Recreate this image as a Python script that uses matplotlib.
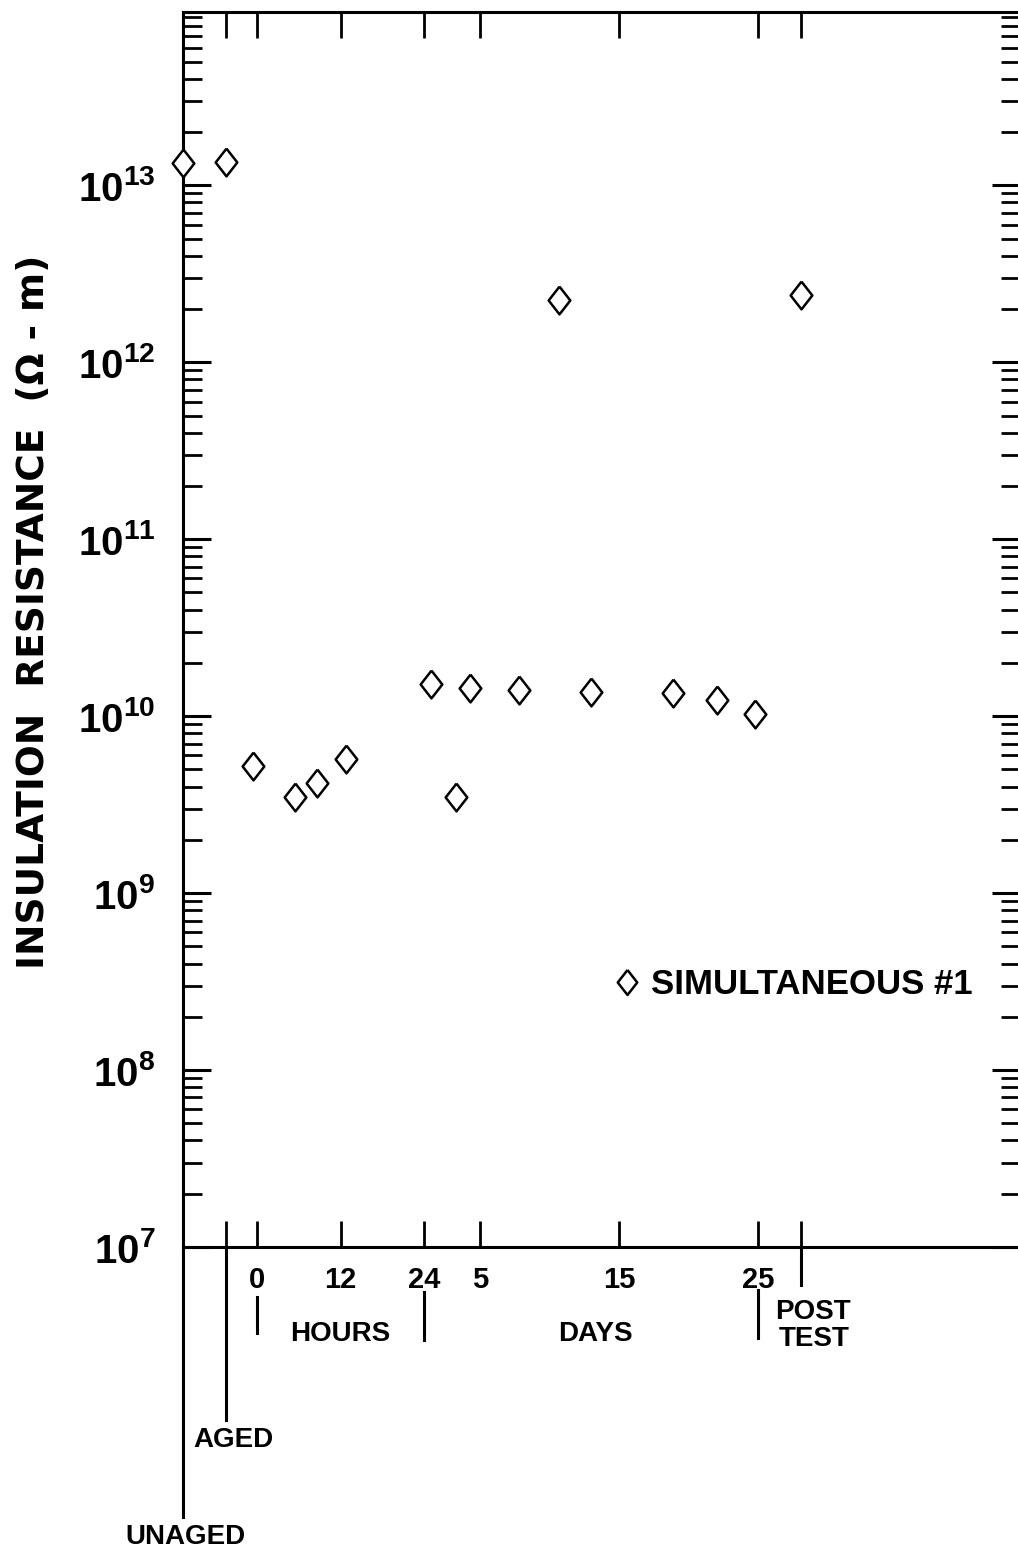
import numpy as np
import matplotlib
matplotlib.use("Agg")
import matplotlib.pyplot as plt
import matplotlib.ticker as ticker
import matplotlib.transforms as mtransforms

plt.rcParams['font.family'] = ['Liberation Sans', 'DejaVu Sans']
plt.rcParams['font.weight'] = 'bold'
plt.rcParams['mathtext.fontset'] = 'custom'
plt.rcParams['mathtext.rm'] = 'Liberation Sans:bold'
plt.rcParams['mathtext.bf'] = 'Liberation Sans:bold'

# --- data ---
# x positions in "hour units": hours 0..24 are 1:1, then each day = 2 units
STAGE_POS = {'UNAGED': -10.63, 'AGED': -4.45, 'POST': 78.2}

pre_stages = ['UNAGED', 'AGED']
pre_values = [1.33e13, 1.35e13]

hour_times = [-0.6, 5.5, 8.6, 12.8]
hour_values = [5.2e9, 3.5e9, 4.2e9, 5.7e9]

day_times = [1.5, 3.3, 4.3, 7.8, 10.7, 13.0, 18.9, 22.0, 24.8]
day_values = [1.52e10, 3.5e9, 1.44e10, 1.40e10, 2.24e12, 1.37e10, 1.35e10, 1.23e10, 1.03e10]

post_value = 2.39e12

hour_ticks = [0, 12, 24]
day_ticks = [5, 15, 25]


def day_pos(d):
    return 24 + (np.asarray(d, dtype=float) - 1) * 2


x_all = np.concatenate([[STAGE_POS[s] for s in pre_stages], hour_times,
                        day_pos(day_times), [STAGE_POS['POST']]])
y_all = np.concatenate([pre_values, hour_values, day_values, [post_value]])

# --- figure ---
fig = plt.figure(figsize=(10.18, 15.51), dpi=100)
ax = fig.add_axes([0.1798, 0.1960, 0.8222, 0.7963])

diamond = [(0, 1), (0.78, 0), (0, -1), (-0.78, 0), (0, 1)]
ax.plot(x_all, y_all, ls='none', marker=diamond, ms=20, mfc='white',
        mec='black', mew=1.8, clip_on=False, zorder=5,
        label='SIMULTANEOUS #1')

ax.set_yscale('log')
ax.set_ylim(1e7, 10 ** 13.98)
ax.set_xlim(STAGE_POS['UNAGED'], 109.6)

for s in ax.spines.values():
    s.set_linewidth(2.2)

ax.yaxis.set_major_locator(ticker.LogLocator(base=10, numticks=20))
ax.yaxis.set_minor_locator(ticker.LogLocator(base=10, subs=np.arange(2, 10), numticks=20))
ax.yaxis.set_minor_formatter(ticker.NullFormatter())
ax.yaxis.set_major_formatter(ticker.FuncFormatter(
    lambda v, p: r'$\mathbf{10^{%d}}$' % int(round(np.log10(v)))))
ax.tick_params(axis='y', which='major', direction='in', length=20, width=2.2,
               left=True, right=True, labelsize=29, pad=20)
ax.tick_params(axis='y', which='minor', direction='in', length=14, width=2.0,
               left=True, right=True)

xt = [STAGE_POS['AGED']] + hour_ticks + list(day_pos(day_ticks)) + [STAGE_POS['POST']]
xl = [''] + [str(h) for h in hour_ticks] + [str(d) for d in day_ticks] + ['']
ax.set_xticks(xt)
ax.set_xticklabels(xl)
ax.tick_params(axis='x', which='major', direction='in', length=19, width=2.0,
               top=True, bottom=True, labelsize=21, pad=14)

ax.set_ylabel('INSULATION  RESISTANCE  (Ω - m)', fontsize=27,
              fontweight='bold', family=['DejaVu Sans'], labelpad=0)
ax.yaxis.set_label_coords(52 / 1018, 1 - 612 / 1551, transform=fig.transFigure)

# annotations below the axis: x in data units, y in figure fraction
tr = mtransforms.blended_transform_factory(ax.transData, fig.transFigure)


def fy(py):
    return 1 - py / 1551


line_kw = dict(color='black', lw=2.2, transform=tr, clip_on=False)
ax.plot([STAGE_POS['UNAGED']] * 2, [fy(1247), fy(1517)], **line_kw)
ax.plot([STAGE_POS['AGED']] * 2, [fy(1247), fy(1420)], **line_kw)
ax.plot([STAGE_POS['POST']] * 2, [fy(1247), fy(1285)], **line_kw)
ax.plot([hour_ticks[0]] * 2, [fy(1297), fy(1333)], **line_kw)
ax.plot([hour_ticks[-1]] * 2, [fy(1292), fy(1340)], **line_kw)
ax.plot([day_pos(day_ticks[-1])] * 2, [fy(1290), fy(1338)], **line_kw)

txt_kw = dict(transform=tr, fontsize=20, ha='center', va='center')
ax.text(12, fy(1334), 'HOURS', **txt_kw)
ax.text(day_pos(13.3), fy(1334), 'DAYS', **txt_kw)
ax.text(STAGE_POS['POST'] + 1.6, fy(1312), 'POST', **txt_kw)
ax.text(STAGE_POS['POST'] + 1.9, fy(1339), 'TEST', **txt_kw)
ax.text(STAGE_POS['UNAGED'] + 1.45, fy(1440), 'AGED', fontsize=20, ha='left',
        va='center', transform=tr)
ax.text(STAGE_POS['UNAGED'] + 0.3, fy(1537), 'UNAGED', **txt_kw)

ax.legend(loc='center left', bbox_to_anchor=(613 / 1018, 1 - 985 / 1551),
          bbox_transform=fig.transFigure, frameon=False, fontsize=25,
          handlelength=0.8, handletextpad=0.3, borderpad=0, borderaxespad=0,
          markerscale=0.9)

fig.savefig('out.png', dpi=100)
